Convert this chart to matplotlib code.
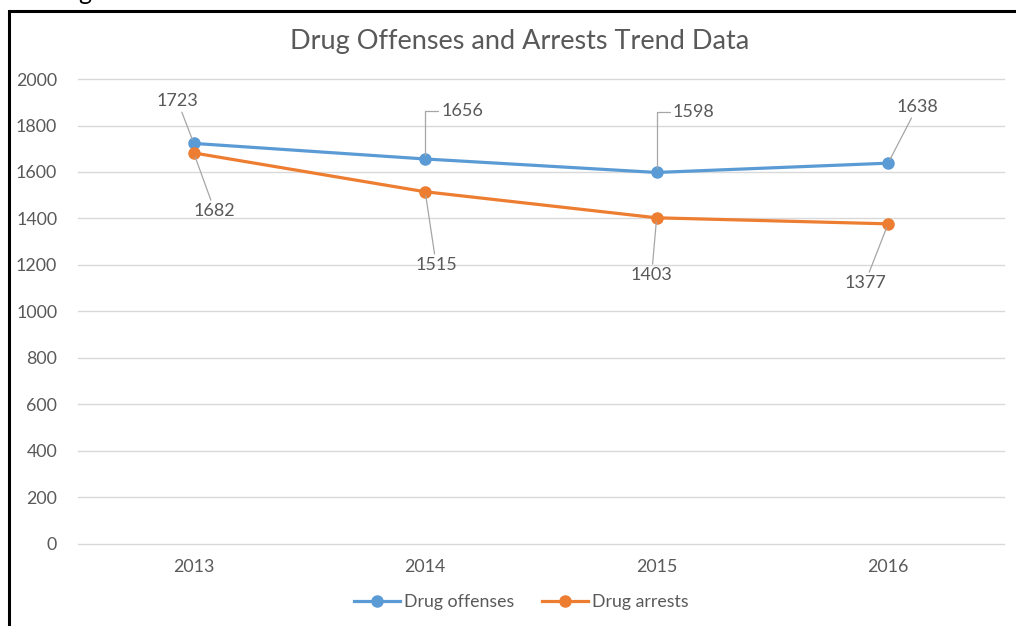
import matplotlib.pyplot as plt
from matplotlib.patches import Rectangle

# Drug offenses vs. arrests, yearly totals
years = ["2013", "2014", "2015", "2016"]
offenses = [1723, 1656, 1598, 1638]
arrests = [1682, 1515, 1403, 1377]

# label offsets in pixels (dx, dy) and whether the leader is an elbow
off_labels = [(-16, 42, False), (37, 48, True), (37, 60, True), (29, 56, False)]
arr_labels = [(21, -58, False), (11, -73, False), (-5, -57, False), (-23, -59, False)]

BLUE = "#5b9bd5"
ORANGE = "#ed7d31"
TXT = "#595959"
GRID = "#d9d9d9"
LEAD = "#a6a6a6"

plt.rcParams["font.family"] = ["Lato", "DejaVu Sans"]

fig = plt.figure(figsize=(10.16, 6.26), dpi=100)
ax = fig.add_axes([0.0768, 0.131, 0.9112, 0.7428])

x = [i + 0.5 for i in range(len(years))]
ax.plot(x, offenses, "-o", color=BLUE, lw=2.3, ms=8, label="Drug offenses", zorder=3)
ax.plot(x, arrests, "-o", color=ORANGE, lw=2.3, ms=8, label="Drug arrests", zorder=3)


def label(xv, yv, dx, dy, elbow):
    if elbow:
        cs = "angle,angleA=0,angleB=90,rad=0"
        rel = (0, 0.5)
    else:
        cs = "arc3"
        rel = (0.5, 0.5)
    ax.annotate(str(yv), xy=(xv, yv), xytext=(dx, dy), textcoords="offset pixels",
                ha="center", va="center", fontsize=13, color=TXT,
                arrowprops=dict(arrowstyle="-", color=LEAD, lw=0.9,
                                connectionstyle=cs, relpos=rel,
                                shrinkA=0, shrinkB=3))


for xv, yv, (dx, dy, el) in zip(x, offenses, off_labels):
    label(xv, yv, dx, dy, el)
for xv, yv, (dx, dy, el) in zip(x, arrests, arr_labels):
    label(xv, yv, dx, dy, el)

ax.set_xlim(0, len(years))
ax.set_ylim(0, 2000)
ax.set_yticks(range(0, 2001, 200))
ax.set_xticks(x)
ax.set_xticklabels(years)
ax.tick_params(length=0, labelsize=12.8, labelcolor=TXT, pad=11)
ax.tick_params(axis="y", pad=15)
ax.grid(axis="y", color=GRID, lw=1)
for gl in ax.get_ygridlines():
    gl.set_clip_on(False)
ax.set_axisbelow(True)
for s in ax.spines.values():
    s.set_visible(False)

fig.text(0.511, 0.933, "Drug Offenses and Arrests Trend Data", ha="center", va="center",
         fontsize=19.5, color=TXT)

fig.legend(loc="center", bbox_to_anchor=(0.513, 0.038), ncol=2, frameon=False,
           fontsize=12.8, labelcolor=TXT, handlelength=2.6, handletextpad=0.2,
           columnspacing=1.6)

# document frame and heading above it
fig.add_artist(Rectangle((8.5 / 1016, -0.2), 1.2, 1.2 - 10.5 / 626,
                         transform=fig.transFigure, fill=False, ec="black", lw=2.2))
fig.text(93 / 1016, 1.0, "Drug", ha="right", va="baseline", fontsize=18, color="black")

fig.savefig("out.png", dpi=100)
